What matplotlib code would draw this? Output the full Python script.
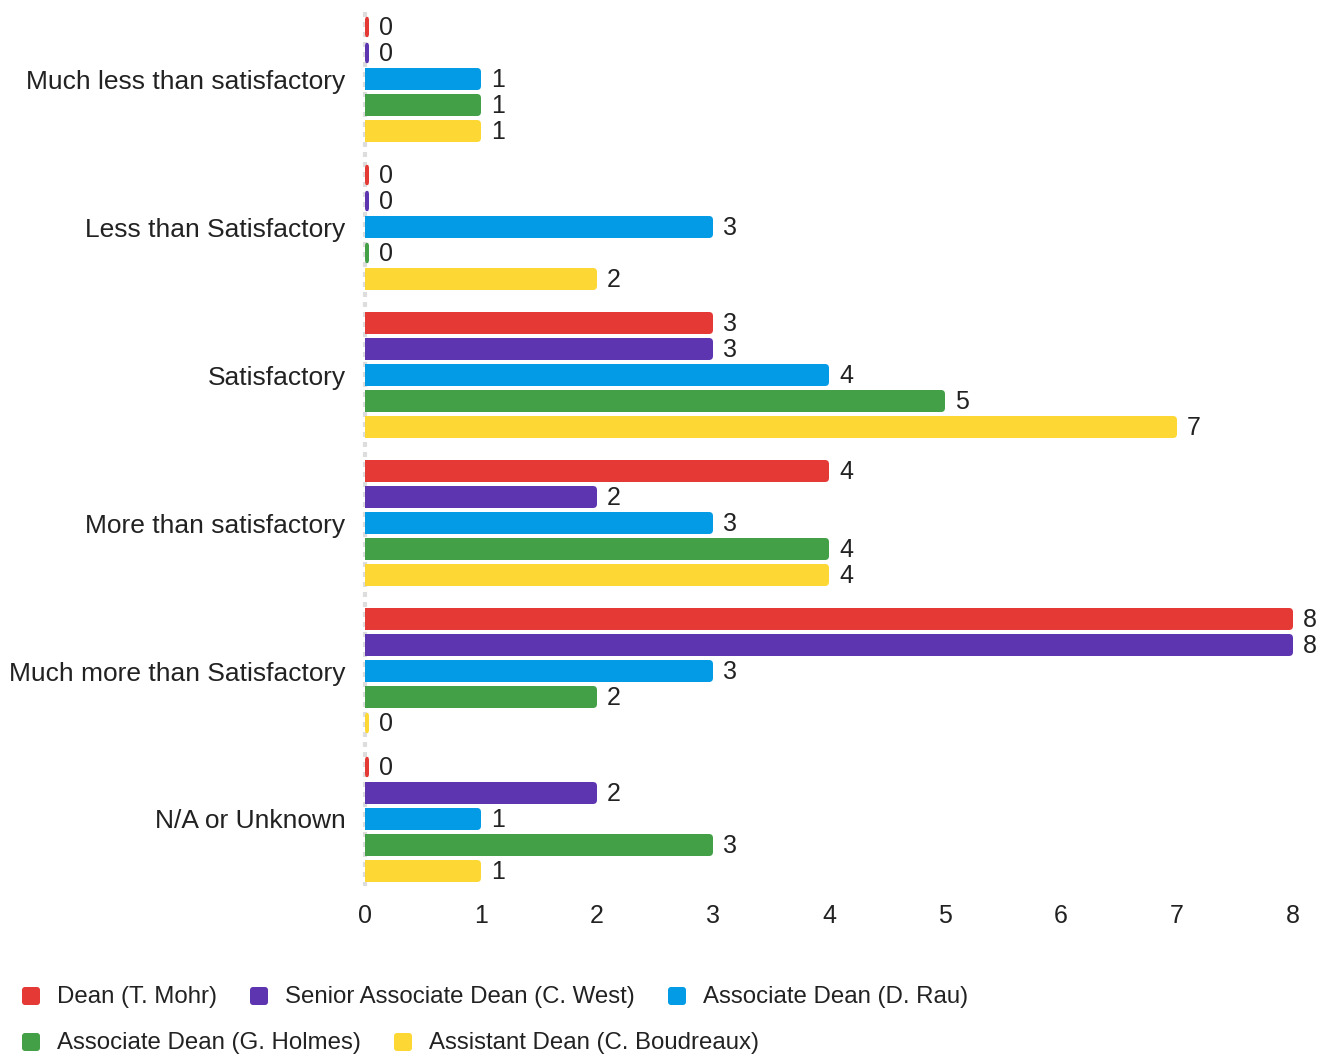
import matplotlib.pyplot as plt
from matplotlib.patches import FancyBboxPatch
import numpy as np

plt.rcParams['font.family'] = ['Liberation Sans', 'DejaVu Sans']

categories = ['Much less than satisfactory', 'Less than Satisfactory', 'Satisfactory',
              'More than satisfactory', 'Much more than Satisfactory', 'N/A or Unknown']
series = ['Dean (T. Mohr)', 'Senior Associate Dean (C. West)', 'Associate Dean (D. Rau)',
          'Associate Dean (G. Holmes)', 'Assistant Dean (C. Boudreaux)']
dean_mohr = [0, 0, 3, 4, 8, 0]
west = [0, 0, 3, 2, 8, 2]
rau = [1, 3, 4, 3, 3, 1]
holmes = [1, 0, 5, 4, 2, 3]
boudreaux = [1, 2, 7, 4, 0, 1]
values = [dean_mohr, west, rau, holmes, boudreaux]
colors = ['#e53935', '#5e35b1', '#039be5', '#43a047', '#fdd835']

W, H = 1328, 1057
fig = plt.figure(figsize=(W / 100, H / 100), dpi=100)
ax = fig.add_axes([365 / W, 1 - 893 / H, (1293 - 365) / W, (893 - 5) / H])

ax.set_xlim(0, 8)
ax.set_ylim(len(categories) - 0.5, -0.5)

px_x = (1293 - 365) / 8.0
px_y = 148.0
bar_h = 22 / px_y
step = 26 / px_y
r = 4 / px_x
zero_w = 4 / px_x
text_col = '#222222'

for s, (vals, c) in enumerate(zip(values, colors)):
    for i, v in enumerate(vals):
        yc = i + (s - 2) * step
        if v > 0:
            # start left of zero so the clipped left side stays square
            x0 = -r
            w = v + r
        else:
            x0 = 0
            w = zero_w
        p = FancyBboxPatch((x0, yc - bar_h / 2), w, bar_h,
                           boxstyle='round,pad=0,rounding_size=%f' % r,
                           mutation_aspect=px_x / px_y,
                           fc=c, ec='none', clip_on=True)
        ax.add_patch(p)
        ax.text(max(v, zero_w) + 10 / px_x, yc + 1 / px_y, str(v), va='center', ha='left',
                fontsize=18, color=text_col, clip_on=False)

ax.set_yticks(range(len(categories)))
ax.set_yticklabels(categories, fontsize=19, color=text_col)
ax.set_xticks(range(9))
ax.set_xticklabels([str(t) for t in range(9)], fontsize=18, color=text_col)
ax.tick_params(axis='y', length=0, pad=14)
ax.tick_params(axis='x', length=0, pad=8)
for sp in ax.spines.values():
    sp.set_visible(False)
ax.plot([0, 0], [-0.45, 5.45], color='#dddddd', lw=3, ls=(0, (1.2, 1.2)),
        clip_on=False, zorder=0)

# legend, laid out in rows like the original
legend_pos = [(22, 996), (250, 996), (668, 996), (22, 1042), (394, 1042)]
for (lx, ly), name, c in zip(legend_pos, series, colors):
    sq = FancyBboxPatch((lx / W, 1 - (ly + 9) / H), 18 / W, 18 / H,
                        boxstyle='round,pad=0,rounding_size=%f' % (3 / W),
                        mutation_aspect=W / H,
                        transform=fig.transFigure, fc=c, ec='none')
    fig.patches.append(sq)
    fig.text((lx + 35) / W, 1 - (ly + 1) / H, name, fontsize=17.3, color=text_col,
             va='center', ha='left')

fig.savefig('out.png', dpi=100)
